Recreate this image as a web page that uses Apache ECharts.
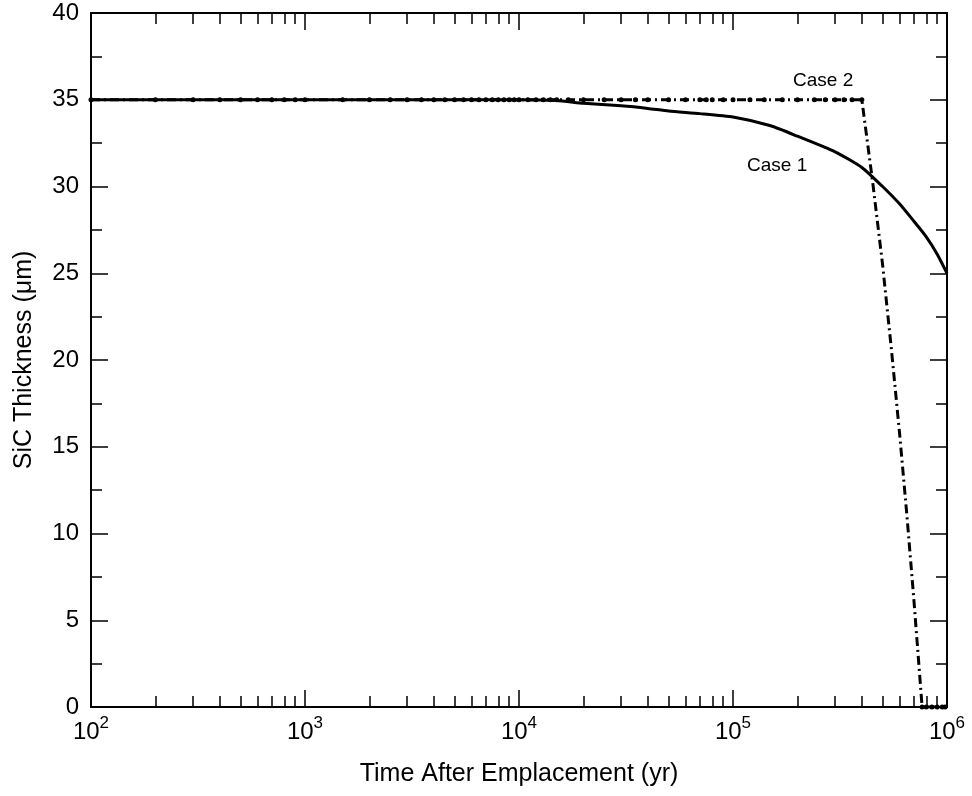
<!DOCTYPE html>
<html>
<head>
<meta charset="utf-8">
<title>SiC Thickness</title>
<script src="https://cdn.jsdelivr.net/npm/echarts@6/dist/echarts.min.js"></script>
<style>
html,body{margin:0;padding:0;background:#fff}
#chart{width:972px;height:796px}
</style>
</head>
<body>
<div id="chart"></div>
<script>
// Case 1: slow thinning
var case1Time  = [100, 1000, 5000, 10000, 15000, 20000, 30000, 40000, 50000, 70000, 100000,
                  150000, 200000, 300000, 400000, 500000, 600000, 700000, 800000, 900000, 1000000];
var case1Thick = [35, 35, 35, 35, 34.95, 34.8, 34.65, 34.5, 34.35, 34.2, 34.0,
                  33.5, 32.9, 32.0, 31.1, 30.0, 29.0, 28.0, 27.1, 26.1, 25.0];

// Case 2: intact until ~4e5 yr, then fails
var case2Time  = [100, 200, 300, 400, 500, 600, 700, 800, 900, 1000, 1500, 2000, 2500, 3000, 3500,
                  4000, 4500, 5000, 5500, 6000, 6500, 7000, 7500, 8000, 8500, 9000, 9500, 10000,
                  11000, 12000, 13000, 14000, 15000, 17000, 20000, 25000, 30000, 35000, 40000,
                  50000, 60000, 70000, 75000, 80000, 90000, 100000, 120000, 140000, 170000,
                  200000, 240000, 270000, 300000, 330000, 360000, 400000,
                  450000, 500000, 550000, 600000, 650000, 700000, 750000,
                  765000, 800000, 850000, 900000, 950000, 980000];
var case2Thick = [35, 35, 35, 35, 35, 35, 35, 35, 35, 35, 35, 35, 35, 35, 35,
                  35, 35, 35, 35, 35, 35, 35, 35, 35, 35, 35, 35, 35,
                  35, 35, 35, 35, 35, 35, 35, 35, 35, 35, 35,
                  35, 35, 35, 35, 35, 35, 35, 35, 35, 35,
                  35, 35, 35, 35, 35, 35, 35,
                  30.2, 25.5, 20.6, 15.8, 11.0, 6.2, 1.4,
                  0, 0, 0, 0, 0, 0];
// points drawn with a dot
var case2Dot = case2Time.map(function (t) { return t <= 400000 || t >= 765000; });

var xMajorTicks = [100, 1000, 10000, 100000, 1000000];
var xMinorTicks = [200, 300, 400, 500, 600, 700, 800, 900,
                   2000, 3000, 4000, 5000, 6000, 7000, 8000, 9000,
                   20000, 30000, 40000, 50000, 60000, 70000, 80000, 90000,
                   200000, 300000, 400000, 500000, 600000, 700000, 800000, 900000];

var FONT = "'Liberation Sans', Arial, sans-serif";
var chart = echarts.init(document.getElementById('chart'));

function logAxis(pos, ticks, len, showLine) {
    return {
        type: 'log', logBase: 10, min: 100, max: 1000000, position: pos,
        axisLine: {show: showLine, onZero: false, lineStyle: {color: '#000', width: 2}},
        axisTick: {show: true, inside: true, length: len, customValues: ticks,
                   lineStyle: {color: '#000', width: 1.5}},
        axisLabel: {show: false},
        splitLine: {show: false}
    };
}

var xBottom = logAxis('bottom', xMajorTicks, 17, true);
xBottom.name = 'Time After Emplacement (yr)';
xBottom.nameLocation = 'middle';
xBottom.nameGap = 55;
xBottom.nameTextStyle = {fontFamily: FONT, fontSize: 25, color: '#000'};
xBottom.axisLabel = {
    show: true, margin: 8, customValues: xMajorTicks,
    formatter: function (v) {
        return '{b|10}{s|' + Math.round(Math.log10(v)) + '}';
    },
    rich: {
        b: {fontFamily: FONT, fontSize: 24, color: '#000', verticalAlign: 'bottom'},
        s: {fontFamily: FONT, fontSize: 17, color: '#000', verticalAlign: 'bottom', padding: [0, 0, 12, 0]}
    }
};

function valAxis(pos, showLabel) {
    return {
        type: 'value', min: 0, max: 40, interval: 5, position: pos,
        axisLine: {show: true, onZero: false, lineStyle: {color: '#000', width: 2}},
        axisTick: {show: true, inside: true, length: 17, lineStyle: {color: '#000', width: 1.5}},
        minorTick: {show: true, splitNumber: 2, length: 11, lineStyle: {color: '#000', width: 1.5}},
        axisLabel: {show: showLabel, margin: 12, fontFamily: FONT, fontSize: 24, color: '#000'},
        splitLine: {show: false}
    };
}
var yLeft = valAxis('left', true);
yLeft.name = 'SiC Thickness (\u03bcm)';
yLeft.nameLocation = 'middle';
yLeft.nameGap = 54;
yLeft.nameTextStyle = {fontFamily: FONT, fontSize: 25, color: '#000'};

chart.setOption({
    animation: false,
    backgroundColor: '#fff',
    grid: {left: 91, right: 25, top: 13, bottom: 89, containLabel: false},
    xAxis: [
        xBottom,
        logAxis('bottom', xMinorTicks, 11, false),
        logAxis('top', xMajorTicks, 17, true),
        logAxis('top', xMinorTicks, 11, false)
    ],
    yAxis: [yLeft, valAxis('right', false)],
    series: [
        {
            name: 'Case 1', type: 'line', xAxisIndex: 0, yAxisIndex: 0,
            showSymbol: false, symbol: 'none', smooth: 0.2,
            lineStyle: {color: '#000', width: 3},
            data: case1Time.map(function (t, i) { return [t, case1Thick[i]]; }),
            z: 3
        },
        {
            name: 'Case 2', type: 'line', xAxisIndex: 0, yAxisIndex: 0,
            symbol: 'circle', symbolSize: 5, showAllSymbol: true,
            itemStyle: {color: '#000'},
            lineStyle: {color: '#000', width: 3, type: [9, 4, 2, 4]},
            data: case2Time.map(function (t, i) {
                return {value: [t, case2Thick[i]], symbol: case2Dot[i] ? 'circle' : 'none'};
            }),
            z: 4
        }
    ],
    graphic: [
        {type: 'text', left: 793, top: 71, style: {text: 'Case 2', font: '19px ' + FONT, fill: '#000'}},
        {type: 'text', left: 747, top: 156, style: {text: 'Case 1', font: '19px ' + FONT, fill: '#000'}}
    ]
});
</script>
</body>
</html>
